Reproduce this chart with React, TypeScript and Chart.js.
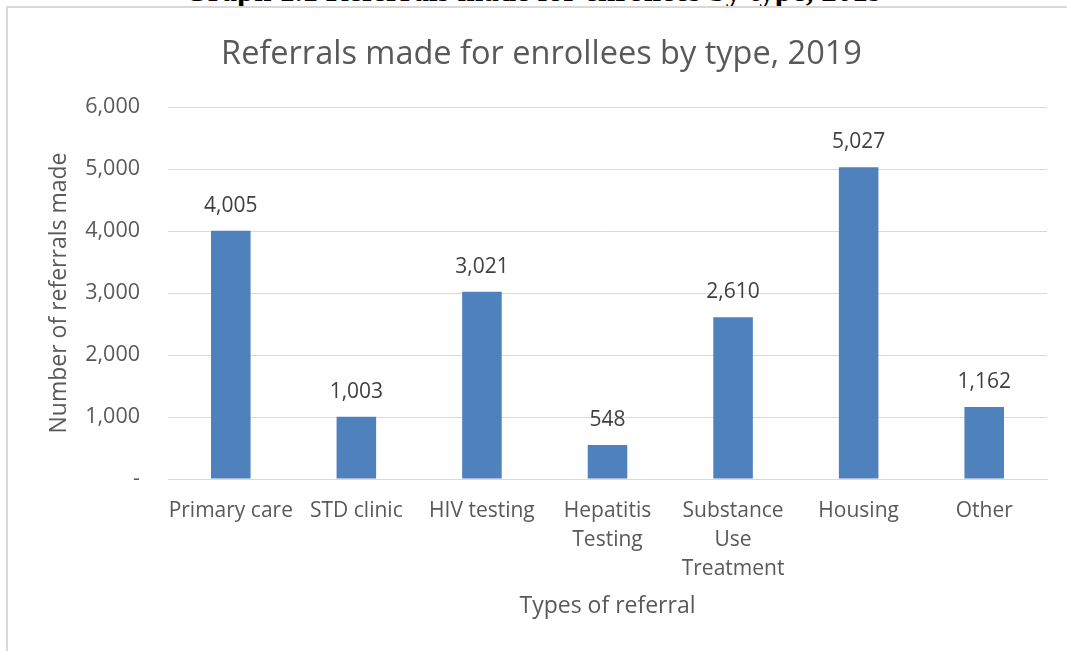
import React, { useEffect, useRef } from "react";
import { Chart, registerables } from "chart.js";

Chart.register(...registerables);

const categories: (string | string[])[] = [
  "Primary care",
  "STD clinic",
  "HIV testing",
  ["Hepatitis", "Testing"],
  ["Substance", "Use", "Treatment"],
  "Housing",
  "Other",
];
const referrals: number[] = [4005, 1003, 3021, 548, 2610, 5027, 1162];
const yTicks: number[] = [0, 1000, 2000, 3000, 4000, 5000, 6000];

const chartTitle = "Referrals made for enrollees by type, 2019";
const headerText = "Graph 1.1 Referrals made for enrollees by type, 2019";
const yTitle = "Number of referrals made";
const xTitle = "Types of referral";

const FONT = "'Open Sans', 'Noto Sans', sans-serif";
const TEXT = "#595959";

const fmt = (v: number) => (v === 0 ? "-" : v.toLocaleString("en-US"));

const dataLabels = {
  id: "dataLabels",
  afterDatasetsDraw(chart: any) {
    const ctx = chart.ctx;
    const meta = chart.getDatasetMeta(0);
    ctx.save();
    ctx.font = `21px ${FONT}`;
    ctx.fillStyle = "#404040";
    ctx.textAlign = "center";
    ctx.textBaseline = "middle";
    meta.data.forEach((el: any, i: number) => {
      ctx.fillText(fmt(referrals[i]), el.x, el.y - 25);
    });
    ctx.restore();
  },
};

export default function App() {
  const ref = useRef<HTMLCanvasElement>(null);
  useEffect(() => {
    if (!ref.current) return;
    const chart = new Chart(ref.current, {
      type: "bar",
      data: {
        labels: categories,
        datasets: [
          {
            data: referrals,
            backgroundColor: "#4f81bd",
            categoryPercentage: 1,
            barPercentage: 0.315,
          },
        ],
      },
      options: {
        animation: false,
        responsive: false,
        maintainAspectRatio: false,
        layout: { padding: { left: 36, right: 20, top: 0, bottom: 0 } },
        plugins: {
          legend: { display: false },
          tooltip: { enabled: false },
          title: {
            display: true,
            text: chartTitle,
            color: TEXT,
            font: { family: FONT, size: 32.5, weight: "normal" },
            padding: { top: 35, bottom: 33 },
          },
        },
        scales: {
          y: {
            min: 0,
            max: 6000,
            afterBuildTicks(scale: any) {
              scale.ticks = yTicks.map((v) => ({ value: v }));
            },
            afterFit(scale: any) {
              scale.width = 132;
            },
            border: { display: false },
            grid: { color: "#d9d9d9", lineWidth: 1, drawTicks: false },
            ticks: {
              color: TEXT,
              padding: 28,
              font: { family: FONT, size: 21.5 },
              callback: (v: any) => fmt(Number(v)),
            },
            title: {
              display: true,
              text: yTitle,
              color: TEXT,
              font: { family: FONT, size: 23 },
              padding: { top: 10, bottom: 0 },
            },
          },
          x: {
            afterFit(scale: any) {
              scale.height = 172;
            },
            border: { display: true, color: "#d9d9d9" },
            grid: { display: false, drawTicks: false },
            ticks: {
              color: TEXT,
              padding: 17,
              maxRotation: 0,
              autoSkip: false,
              font: { family: FONT, size: 21, lineHeight: 1.4 },
            },
            title: {
              display: true,
              text: xTitle,
              color: TEXT,
              font: { family: FONT, size: 23 },
              padding: { top: 0, bottom: 31 },
            },
          },
        },
      },
      plugins: [dataLabels],
    });
    return () => chart.destroy();
  }, []);

  return (
    <div
      style={{
        position: "fixed",
        left: 0,
        top: 0,
        width: 1067,
        height: 651,
        overflow: "hidden",
        background: "#ffffff",
      }}
    >
      <div
        style={{
          position: "absolute",
          left: 0,
          top: -25,
          width: 1067,
          textAlign: "center",
          fontFamily: "'Liberation Serif', 'DejaVu Serif', serif",
          fontWeight: "bold",
          fontSize: 31,
          lineHeight: "31px",
          color: "#000",
          whiteSpace: "nowrap",
        }}
      >
        {headerText}
      </div>
      <div
        style={{
          position: "absolute",
          left: 6,
          top: 6,
          width: 1200,
          height: 800,
          borderLeft: "2px solid #d9d9d9",
          borderTop: "2px solid #d9d9d9",
        }}
      />
      <canvas
        ref={ref}
        width={1067}
        height={651}
        style={{ position: "absolute", left: 0, top: 0, width: 1067, height: 651 }}
      />
    </div>
  );
}
